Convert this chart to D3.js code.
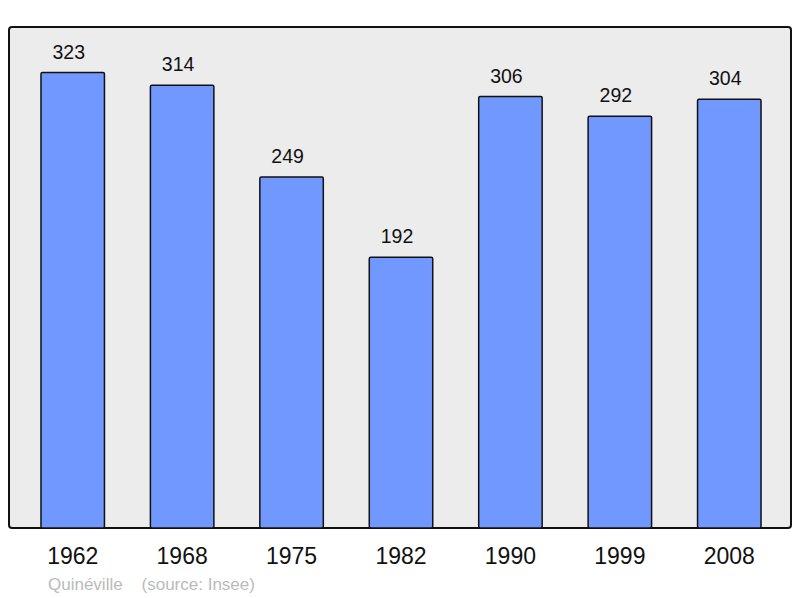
<!DOCTYPE html>
<html>
<head>
<meta charset="utf-8">
<script src="https://cdn.jsdelivr.net/npm/d3@7"></script>
<style>
  body { margin: 0; background: #fff; }
  text { font-family: "Liberation Sans", Arial, sans-serif; }
</style>
</head>
<body>
<svg id="chart" width="800" height="598"></svg>
<script>
const years = ["1962", "1968", "1975", "1982", "1990", "1999", "2008"];
const population = [323, 314, 249, 192, 306, 292, 304];
const town = "Quinéville";
const source = "(source: Insee)";

const svg = d3.select("#chart");

// frame
const frame = { left: 9, top: 27, right: 791, bottom: 528 };

svg.append("rect")
	.attr("x", frame.left)
	.attr("y", frame.top)
	.attr("width", frame.right - frame.left)
	.attr("height", frame.bottom - frame.top)
	.attr("rx", 3)
	.style("fill", "#ececec")
	.style("stroke", "#111")
	.style("stroke-width", 2);

const x = d3.scaleBand()
	.domain(years)
	.range([18, 784])
	.paddingInner(0.42)
	.paddingOuter(0.21);

const y = d3.scaleLinear()
	.domain([0, d3.max(population) * 1.1])
	.range([frame.bottom, frame.top]);

const data = years.map((yr, i) => ({ year: yr, value: population[i] }));

svg.selectAll("rect.bar")
	.data(data)
	.enter()
	.append("rect")
		.attr("class", "bar")
		.attr("x", d => x(d.year))
		.attr("y", d => y(d.value))
		.attr("width", x.bandwidth())
		.attr("height", d => frame.bottom - y(d.value))
		.attr("rx", 1.5)
		.style("fill", "#7098ff")
		.style("stroke", "#111")
		.style("stroke-width", 1.5);

// value labels (sit a little left of the bar centre, like the original)
svg.selectAll("text.value")
	.data(data)
	.enter()
	.append("text")
		.attr("class", "value")
		.attr("x", d => x(d.year) + x.bandwidth() / 2 - 4)
		.attr("y", d => y(d.value) - 14)
		.attr("text-anchor", "middle")
		.style("font-size", "19.5px")
		.style("fill", "#111")
		.text(d => d.value);

// year labels
svg.selectAll("text.year")
	.data(data)
	.enter()
	.append("text")
		.attr("class", "year")
		.attr("x", d => x(d.year) + x.bandwidth() / 2)
		.attr("y", 564)
		.attr("text-anchor", "middle")
		.style("font-size", "23px")
		.style("fill", "#111")
		.text(d => d.year);

// caption
svg.append("text")
	.attr("x", 48)
	.attr("y", 590)
	.style("font-size", "17px")
	.style("fill", "#bbb")
	.style("white-space", "pre")
	.attr("xml:space", "preserve")
	.text(town + "    " + source);
</script>
</body>
</html>
